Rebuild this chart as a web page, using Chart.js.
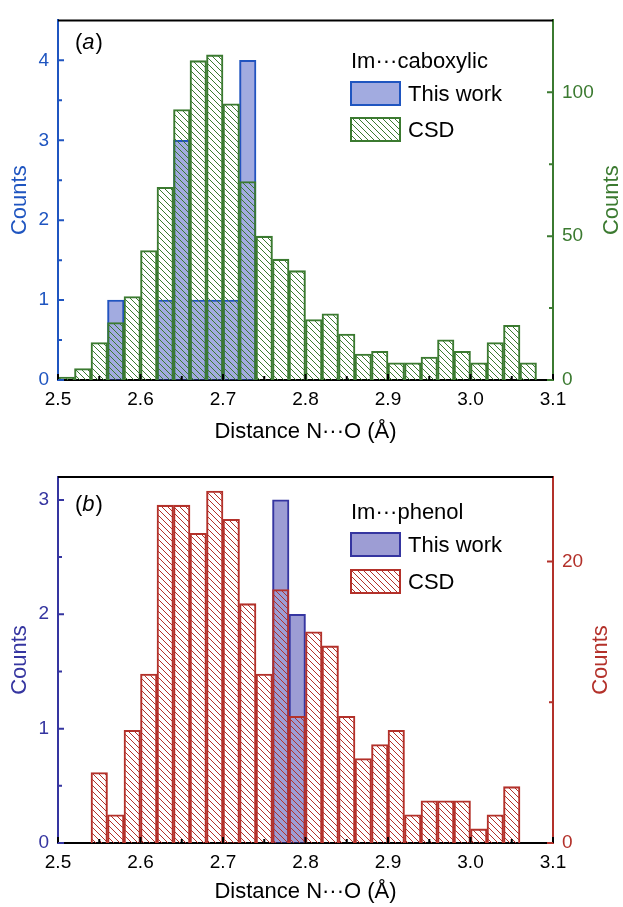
<!DOCTYPE html>
<html>
<head>
<meta charset="utf-8">
<script src="https://cdn.jsdelivr.net/npm/chart.js@4.4.1/dist/chart.umd.min.js"></script>
<style>
  html, body { margin: 0; padding: 0; background: #fff; }
  .panel { position: relative; width: 623px; }
  #wrap-a { height: 453px; }
  #wrap-b { height: 454px; }
</style>
</head>
<body>
<div class="panel" id="wrap-a"><canvas id="chart-a"></canvas></div>
<div class="panel" id="wrap-b"><canvas id="chart-b"></canvas></div>
<script>
// ---- data, panel (a) : Im...caboxylic ----
const binsA = [2.51, 2.53, 2.55, 2.57, 2.59, 2.61, 2.63, 2.65, 2.67, 2.69,
  2.71, 2.73, 2.75, 2.77, 2.79, 2.81, 2.83, 2.85, 2.87, 2.89,
  2.91, 2.93, 2.95, 2.97, 2.99, 3.01, 3.03, 3.05, 3.07];
const csdA = [1, 4, 13, 20, 29, 45, 67, 94, 111, 113,
  96, 69, 50, 42, 38, 21, 23, 16, 9, 10,
  6, 6, 8, 14, 10, 6, 13, 19, 6];
const workBinsA = [2.57, 2.63, 2.65, 2.67, 2.69, 2.71, 2.73];
const workA = [1, 1, 3, 1, 1, 1, 4];

// ---- data, panel (b) : Im...phenol ----
const binsB = [2.55, 2.57, 2.59, 2.61, 2.63, 2.65, 2.67, 2.69, 2.71, 2.73,
  2.75, 2.77, 2.79, 2.81, 2.83, 2.85, 2.87, 2.89, 2.91, 2.93,
  2.95, 2.97, 2.99, 3.01, 3.03, 3.05];
const csdB = [5, 2, 8, 12, 24, 24, 22, 25, 23, 17,
  12, 18, 9, 15, 14, 9, 6, 7, 8, 2,
  3, 3, 3, 1, 2, 4];
const workBinsB = [2.77, 2.79];
const workB = [3, 2];

// ---- ticks ----
const ticksX = [2.5, 2.6, 2.7, 2.8, 2.9, 3.0, 3.1];
const minorX = [2.55, 2.65, 2.75, 2.85, 2.95, 3.05];
const ticksLeftA = [0, 1, 2, 3, 4];
const minorLeftA = [0.5, 1.5, 2.5, 3.5];
const ticksRightA = [0, 50, 100];
const minorRightA = [25, 75];
const ticksLeftB = [0, 1, 2, 3];
const minorLeftB = [0.5, 1.5, 2.5];
const ticksRightB = [0, 20];
const minorRightB = [10];

const FONT = '"Liberation Sans", Arial, Helvetica, sans-serif';
Chart.defaults.font.family = FONT;

const makeHatch = (color) => {
  const c = document.createElement('canvas');
  c.width = 6; c.height = 6;
  const g = c.getContext('2d');
  g.strokeStyle = color;
  g.lineWidth = 1;
  g.beginPath();
  g.moveTo(0, 0); g.lineTo(6, 6);
  g.moveTo(5, -1); g.lineTo(7, 1);
  g.moveTo(-1, 5); g.lineTo(1, 7);
  g.stroke();
  return g.createPattern(c, 'repeat');
};

const toPoints = (xs, ys) => xs.map((x, i) => ({ x: x, y: ys[i] }));

// frame, inward ticks, panel letter, legend and right axis title
const decor = {
  id: 'decor',
  afterDraw(chart, args, o) {
    const { ctx, chartArea: a, scales } = chart;
    ctx.save();
    ctx.lineCap = 'butt';

    ctx.strokeStyle = '#000';
    ctx.lineWidth = 2;
    ctx.beginPath();
    ctx.moveTo(a.left, a.top);
    ctx.lineTo(a.right, a.top);
    ctx.stroke();

    const marks = (vals, len, color, fn) => {
      ctx.strokeStyle = color;
      ctx.lineWidth = 2;
      ctx.beginPath();
      vals.forEach(v => fn(v, len));
      ctx.stroke();
    };
    const xTick = (v, len) => {
      const p = scales.x.getPixelForValue(v);
      ctx.moveTo(p, a.bottom); ctx.lineTo(p, a.bottom - len);
    };
    const lTick = (v, len) => {
      const p = scales.yL.getPixelForValue(v);
      ctx.moveTo(a.left, p); ctx.lineTo(a.left + len, p);
    };
    const rTick = (v, len) => {
      const p = scales.yR.getPixelForValue(v);
      ctx.moveTo(a.right, p); ctx.lineTo(a.right - len, p);
    };
    marks(ticksX, 6, '#000', xTick);
    marks(minorX, 4, '#000', xTick);
    marks(o.majorL, 6, o.colorL, lTick);
    marks(o.minorL, 4, o.colorL, lTick);
    marks(o.majorR, 6, o.colorR, rTick);
    marks(o.minorR, 4, o.colorR, rTick);

    // panel letter (a)/(b)
    ctx.fillStyle = '#000';
    ctx.textBaseline = 'middle';
    ctx.textAlign = 'left';
    let x = o.letterX;
    ctx.font = '22px ' + FONT;
    ctx.fillText('(', x, o.letterY); x += ctx.measureText('(').width;
    ctx.font = 'italic 22px ' + FONT;
    ctx.fillText(o.letter, x, o.letterY); x += ctx.measureText(o.letter).width + 1;
    ctx.font = '22px ' + FONT;
    ctx.fillText(')', x, o.letterY);

    // legend
    const lg = o.legend;
    ctx.font = '22px ' + FONT;
    ctx.fillText(lg.title, lg.x, lg.titleY);
    const ds = chart.data.datasets;
    lg.rows.forEach((y, i) => {
      const d = ds.find(s => s.label === lg.labels[i]);
      ctx.fillStyle = d.backgroundColor;
      ctx.fillRect(lg.x, y, lg.boxW, lg.boxH);
      ctx.strokeStyle = d.borderColor;
      ctx.lineWidth = 2;
      ctx.strokeRect(lg.x, y, lg.boxW, lg.boxH);
      ctx.fillStyle = '#000';
      ctx.fillText(lg.labels[i], lg.x + lg.boxW + 8, y + lg.boxH / 2 + 1);
    });

    // right axis title, reading bottom to top
    ctx.save();
    ctx.translate(o.rightTitleX, (a.top + a.bottom) / 2);
    ctx.rotate(-Math.PI / 2);
    ctx.textAlign = 'center';
    ctx.fillStyle = o.colorR;
    ctx.font = '22px ' + FONT;
    ctx.fillText('Counts', 0, 0);
    ctx.restore();

    ctx.restore();
  }
};

const buildChart = (canvasId, cfg) => {
  const workColor = cfg.workColor;
  const csdColor = cfg.csdColor;
  return new Chart(document.getElementById(canvasId), {
    type: 'bar',
    data: {
      datasets: [
        {
          label: 'This work',
          data: toPoints(cfg.workBins, cfg.work),
          yAxisID: 'yL',
          backgroundColor: cfg.workFill,
          borderColor: workColor,
          borderWidth: 1.4,
          grouped: false,
          order: 1,
          barPercentage: 1,
          categoryPercentage: 1
        },
        {
          label: 'CSD',
          data: toPoints(cfg.bins, cfg.csd),
          yAxisID: 'yR',
          backgroundColor: makeHatch(csdColor),
          borderColor: csdColor,
          borderWidth: 1.4,
          grouped: false,
          order: 0,
          barPercentage: 1,
          categoryPercentage: 1
        }
      ]
    },
    options: {
      responsive: true,
      maintainAspectRatio: false,
      animation: false,
      layout: { padding: { top: cfg.top, left: 0, right: 0, bottom: 0 } },
      plugins: {
        legend: { display: false },
        tooltip: { enabled: false },
        decor: {
          majorL: cfg.ticksL, minorL: cfg.minorL, colorL: cfg.colorL,
          majorR: cfg.ticksR, minorR: cfg.minorR, colorR: csdColor,
          letter: cfg.letter, letterX: 75, letterY: cfg.letterY,
          rightTitleX: cfg.rightTitleX,
          legend: {
            title: cfg.legendTitle, x: 351, titleY: cfg.legendY[0],
            rows: [cfg.legendY[1], cfg.legendY[2]],
            labels: ['This work', 'CSD'], boxW: 49, boxH: 23
          }
        }
      },
      scales: {
        x: {
          type: 'linear',
          offset: false,
          min: 2.5,
          max: 3.1,
          grid: { display: false, drawTicks: false, offset: false },
          border: { display: true, color: '#000', width: 2 },
          afterBuildTicks: s => { s.ticks = ticksX.map(v => ({ value: v })); },
          afterFit: s => { s.height = cfg.xHeight; },
          ticks: {
            autoSkip: false, maxRotation: 0, padding: 8, color: '#000',
            font: { size: 19 },
            callback: v => Number(v).toFixed(1)
          },
          title: {
            display: true, text: 'Distance N···O (Å)', color: '#000',
            font: { size: 22 }, padding: { top: 0, bottom: cfg.xTitlePad }
          }
        },
        yL: {
          position: 'left',
          min: 0,
          max: cfg.maxL,
          grid: { display: false, drawTicks: false },
          border: { display: true, color: cfg.colorL, width: 2 },
          afterBuildTicks: s => { s.ticks = cfg.ticksL.map(v => ({ value: v })); },
          afterFit: s => { s.width = 58; },
          ticks: { padding: 9, color: cfg.colorL, font: { size: 19 } },
          title: {
            display: true, text: 'Counts', color: cfg.colorL,
            font: { size: 22 }, padding: { top: 7, bottom: 0 }
          }
        },
        yR: {
          position: 'right',
          min: 0,
          max: cfg.maxR,
          grid: { display: false, drawTicks: false },
          border: { display: true, color: csdColor, width: 2 },
          afterBuildTicks: s => { s.ticks = cfg.ticksR.map(v => ({ value: v })); },
          afterFit: s => { s.width = 70; },
          ticks: { padding: 9, color: csdColor, font: { size: 19 } }
        }
      }
    },
    plugins: [decor]
  });
};

buildChart('chart-a', {
  bins: binsA, csd: csdA, workBins: workBinsA, work: workA,
  workColor: '#1f55c0', workFill: 'rgba(60, 80, 190, 0.48)', csdColor: '#3b7a30',
  colorL: '#1f55c0',
  ticksL: ticksLeftA, minorL: minorLeftA, maxL: 4.5,
  ticksR: ticksRightA, minorR: minorRightA, maxR: 125,
  top: 15, xHeight: 73, xTitlePad: 8,
  letter: 'a', letterY: 43, rightTitleX: 612,
  legendTitle: 'Im···caboxylic', legendY: [62, 82, 118]
});

buildChart('chart-b', {
  bins: binsB, csd: csdB, workBins: workBinsB, work: workB,
  workColor: '#3535a0', workFill: 'rgba(60, 60, 170, 0.5)', csdColor: '#b3312a',
  colorL: '#3535a0',
  ticksL: ticksLeftB, minorL: minorLeftB, maxL: 3.2,
  ticksR: ticksRightB, minorR: minorRightB, maxR: 26,
  top: 24, xHeight: 64, xTitlePad: 2,
  letter: 'b', letterY: 52, rightTitleX: 601,
  legendTitle: 'Im···phenol', legendY: [60, 80, 117]
});
</script>
</body>
</html>
